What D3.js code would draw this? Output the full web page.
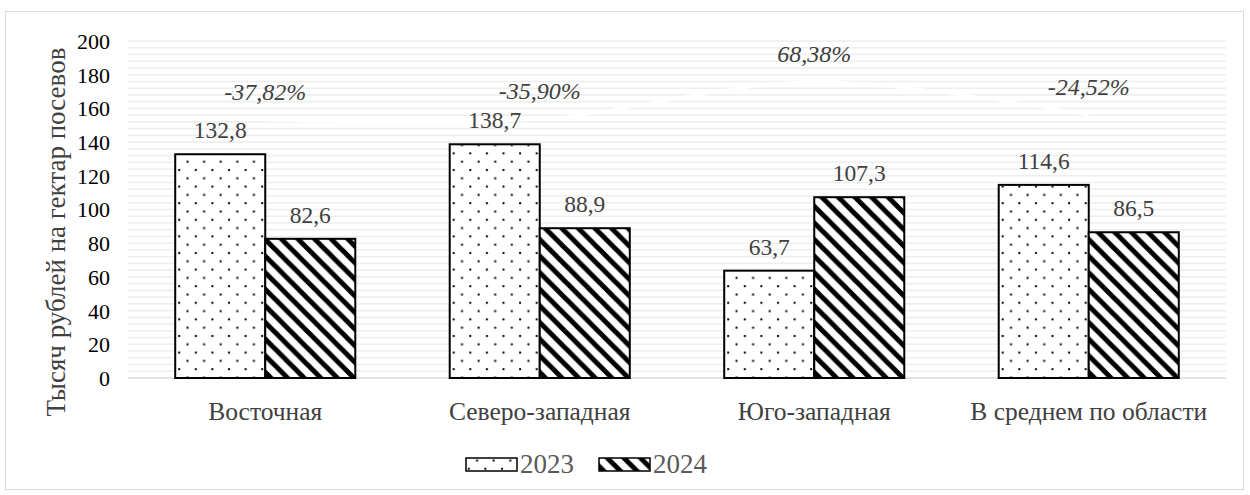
<!DOCTYPE html>
<html>
<head>
<meta charset="utf-8">
<script src="https://cdn.jsdelivr.net/npm/d3@7"></script>
<style>
  html, body { margin: 0; padding: 0; background: #fff; }
</style>
</head>
<body>
<svg id="chart" width="1250" height="495"></svg>
<script>
// Revenue per hectare of crops, thousand roubles, by zone
const categories = ["Восточная", "Северо-западная", "Юго-западная", "В среднем по области"];
const values2023 = [132.8, 138.7, 63.7, 114.6];
const values2024 = [82.6, 88.9, 107.3, 86.5];
const changePct = [-37.82, -35.90, 68.38, -24.52];
const seriesNames = ["2023", "2024"];
const yTicks = [0, 20, 40, 60, 80, 100, 120, 140, 160, 180, 200];

const plot = { left: 128, right: 1226, top: 41, bottom: 378 };
const SERIF = '"Liberation Serif"';

const svg = d3.select("#chart");
const loc = d3.formatLocale({ decimal: ",", thousands: " ", grouping: [3], currency: ["", ""], minus: "-" });
const fmt = loc.format(".1f");
const fmtPct = v => loc.format(".2f")(v) + "%";
const serif = (sel, size) => sel.style("font-family", SERIF).style("font-size", size + "px");

// chart frame
svg.append("rect")
  .attr("x", 5.5).attr("y", 11.5)
  .attr("width", 1238).attr("height", 478)
  .attr("fill", "#fff").attr("stroke", "#d9d9d9").attr("stroke-width", 1);

// fill patterns
const defs = svg.append("defs");
const dots = defs.append("pattern")
  .attr("id", "dots").attr("patternUnits", "userSpaceOnUse")
  .attr("width", 16.6).attr("height", 16.6);
dots.append("rect").attr("width", 16.6).attr("height", 16.6).attr("fill", "#fff");
dots.append("rect").attr("x", 3).attr("y", 3).attr("width", 2).attr("height", 2).attr("fill", "#000");
dots.append("rect").attr("x", 11.3).attr("y", 11.3).attr("width", 2).attr("height", 2).attr("fill", "#000");

const hatch = defs.append("pattern")
  .attr("id", "hatch").attr("patternUnits", "userSpaceOnUse")
  .attr("width", 16.6).attr("height", 16.6);
hatch.append("rect").attr("width", 16.6).attr("height", 16.6).attr("fill", "#fff");
hatch.append("path")
  .attr("d", "M-4.15,-4.15L20.75,20.75M-4.15,12.45L4.15,20.75M12.45,-4.15L20.75,4.15")
  .attr("stroke", "#000").attr("stroke-width", 5);

// scales
const y = d3.scaleLinear().domain([0, 200]).range([plot.bottom, plot.top]);
const yPct = d3.scaleLinear().domain([-765, 184]).range([plot.bottom, plot.top]); // hidden secondary axis
const x0 = d3.scaleBand().domain(categories).range([plot.left, plot.right])
  .paddingInner(0.344).paddingOuter(0.172);
const x1 = d3.scaleBand().domain(seriesNames).range([0, x0.bandwidth()]);

// horizontal background lines
const gridVals = d3.range(0, 201, 4);
svg.append("g").selectAll("line").data(gridVals).join("line")
  .attr("x1", plot.left).attr("x2", plot.right)
  .attr("y1", d => y(d)).attr("y2", d => y(d))
  .attr("stroke", d => d === 0 ? "#d9d9d9" : "#eeeeee")
  .attr("stroke-width", d => d === 0 ? 1.5 : 1.6);

// y axis labels
const yAxis = d3.axisLeft(y).tickValues(yTicks).tickSize(0).tickPadding(0);
const gy = svg.append("g").attr("transform", `translate(${plot.left - 18},0)`).call(yAxis);
gy.select(".domain").remove();
gy.selectAll("text").attr("fill", "#000").attr("dy", "0.34em").call(serif, 22);

// y axis title
svg.append("text")
  .attr("transform", "translate(65,232) rotate(-90)")
  .attr("text-anchor", "middle").attr("fill", "#404040")
  .call(serif, 27)
  .text("Тысяч рублей на гектар посевов");

// change line on secondary axis (drawn white)
const linePts = categories.map((c, i) => [x0(c) + x0.bandwidth() / 2, yPct(changePct[i])]);
svg.append("path")
  .attr("d", d3.line().curve(d3.curveCatmullRom.alpha(0.5))(linePts))
  .attr("fill", "none").attr("stroke", "#fff").attr("stroke-width", 3);

// bars
const rows = categories.map((c, i) => ({ c, vals: [values2023[i], values2024[i]] }));
const groups = svg.append("g").selectAll("g").data(rows).join("g")
  .attr("transform", d => `translate(${x0(d.c)},0)`);
groups.selectAll("rect").data(d => d.vals.map((v, j) => ({ v, s: seriesNames[j] })))
  .join("rect")
  .attr("x", d => x1(d.s)).attr("width", x1.bandwidth())
  .attr("y", d => y(d.v)).attr("height", d => y(0) - y(d.v))
  .attr("fill", d => d.s === "2023" ? "url(#dots)" : "url(#hatch)")
  .attr("stroke", "#000").attr("stroke-width", 2);

// value labels
groups.selectAll("text").data(d => d.vals.map((v, j) => ({ v, s: seriesNames[j] })))
  .join("text")
  .attr("x", d => x1(d.s) + x1.bandwidth() / 2)
  .attr("y", d => y(d.v) - 16)
  .attr("text-anchor", "middle").attr("fill", "#404040")
  .call(serif, 23.5)
  .text(d => fmt(d.v));

// percentage labels
svg.append("g").selectAll("text").data(categories).join("text")
  .attr("x", (c) => x0(c) + x0.bandwidth() / 2)
  .attr("y", (c, i) => yPct(changePct[i]) - 20)
  .attr("text-anchor", "middle").attr("fill", "#404040")
  .call(serif, 24).style("font-style", "italic")
  .text((c, i) => fmtPct(changePct[i]));

// category labels
svg.append("g").selectAll("text").data(categories).join("text")
  .attr("x", c => x0(c) + x0.bandwidth() / 2)
  .attr("y", 420)
  .attr("text-anchor", "middle").attr("fill", "#404040")
  .call(serif, 25.5)
  .text(c => c);

// legend
const legend = svg.append("g");
const legendItems = [
  { name: "2023", fill: "url(#dots)", x: 466 },
  { name: "2024", fill: "url(#hatch)", x: 599 }
];
legendItems.forEach(it => {
  legend.append("rect").attr("x", it.x).attr("y", 458).attr("width", 51).attr("height", 13)
    .attr("fill", it.fill).attr("stroke", "#000").attr("stroke-width", 1.5);
  legend.append("text").attr("x", it.x + 54).attr("y", 473)
    .attr("fill", "#595959").call(serif, 27).text(it.name);
});
</script>
</body>
</html>
